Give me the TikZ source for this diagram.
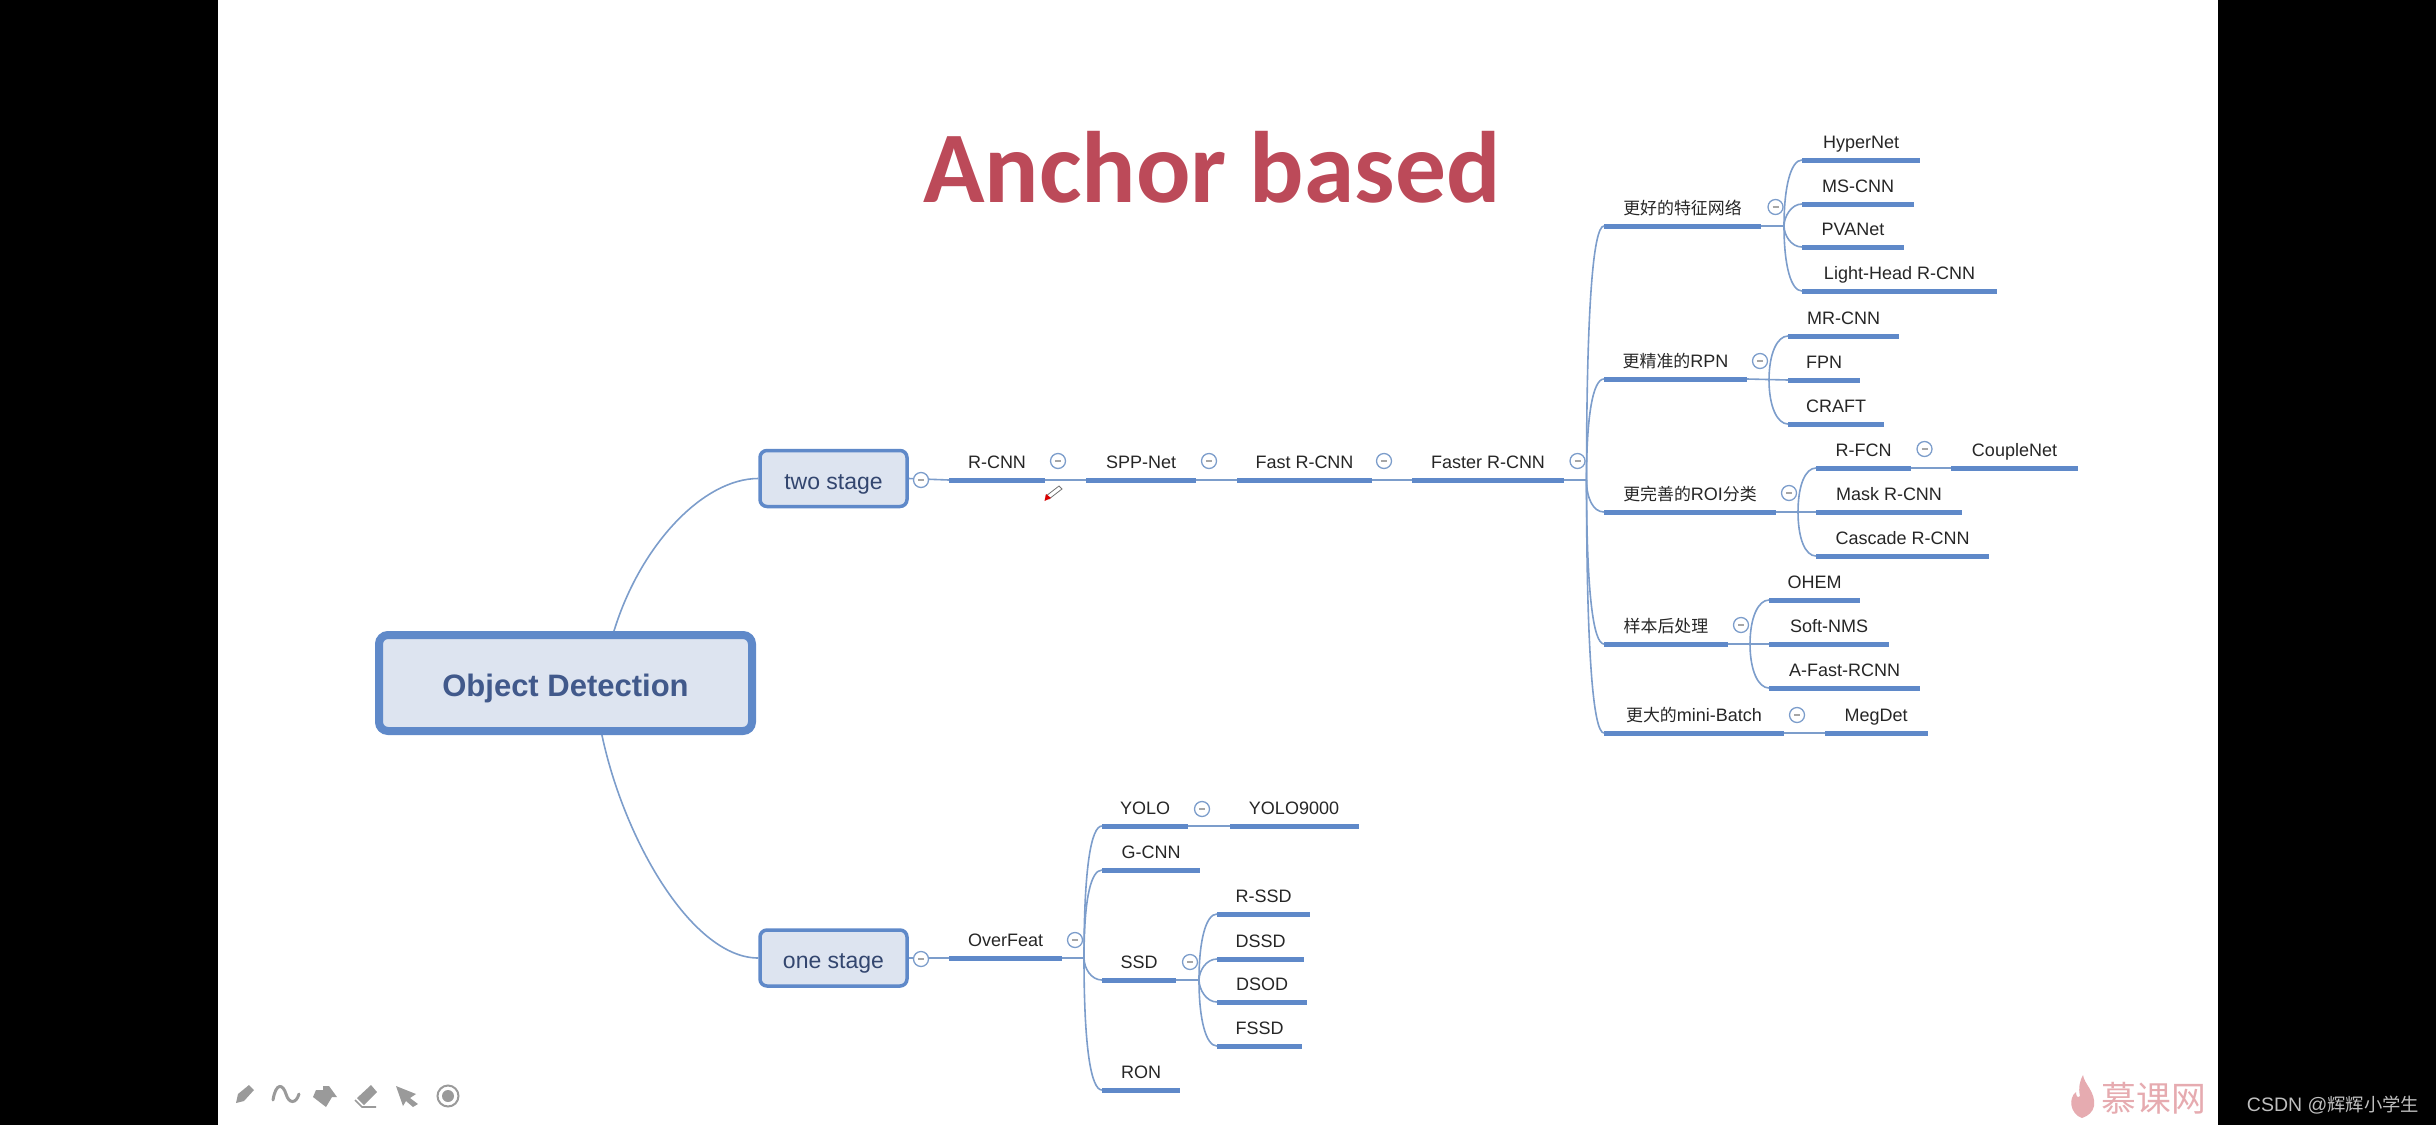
\documentclass[tikz,border=0pt]{standalone}
\usepackage{fontspec}
\setmainfont{Liberation Sans}
\newfontfamily\cjk[Scale=0.94]{Noto Sans CJK SC}
\newfontfamily\titlefont{Carlito}
\definecolor{barblue}{HTML}{5F89C9}
\definecolor{linkblue}{HTML}{7C9DCB}
\definecolor{boxfill}{HTML}{DDE4F0}
\definecolor{rootText}{HTML}{41598B}
\definecolor{stageText}{HTML}{33466F}
\definecolor{titleRed}{HTML}{BC4A59}
\definecolor{iconGray}{HTML}{9A9A9A}
\definecolor{markPink}{HTML}{E6ABB0}
\begin{document}
\begin{tikzpicture}[x=1pt,y=-1pt,
	topic_text/.style={font=\fontsize{18}{20}\selectfont,color=black!85,inner sep=0pt,text height=13pt,text depth=4pt},
	bar_node/.style={rectangle,fill=barblue,minimum height=5pt,inner sep=0pt,outer sep=0pt,label={[topic_text,label distance=5pt]above:#1}},
	root_node/.style={rectangle,rounded corners=9pt,draw=barblue,fill=boxfill,line width=8pt,minimum width=373pt,minimum height=96pt,font=\bfseries\fontsize{31}{34}\selectfont,text=rootText,text height=26pt,text depth=0pt},
	stage_node/.style={rectangle,rounded corners=7pt,draw=barblue,fill=boxfill,line width=3.5pt,minimum width=147pt,minimum height=56pt,font=\fontsize{23}{26}\selectfont,text=stageText,text height=21pt,text depth=0pt},
	fold_node/.style={circle,draw=linkblue,fill=white,line width=1.3pt,minimum size=15pt,inner sep=0pt,path picture={\draw[black!35,line width=1.4pt] ([xshift=-3pt]path picture bounding box.center) -- ([xshift=3pt]path picture bounding box.center);}},
	link/.style={draw=linkblue,line width=1.6pt},
	up_link/.style={out=90,in=180,out distance=#1,in distance=11pt},
	down_link/.style={out=-90,in=180,out distance=#1,in distance=11pt}]

	\useasboundingbox (0,0) rectangle (2436,1125);
	\fill[black] (0,0) rectangle (218,1125);
	\fill[black] (2218,0) rectangle (2436,1125);

	\node[text=titleRed,font=\titlefont\bfseries\fontsize{101.5}{120}\selectfont] (title) at (1212,167) {Anchor based};

	\node[root_node] (root) at (565.5,683) {Object Detection};
	\node[stage_node] (two) at (833.5,478.5) {two stage};
	\node[stage_node] (one) at (833.5,958) {one stage};

	\node[bar_node=R-CNN,minimum width=96pt] (rcnn) at (997,480) {};
	\node[bar_node=SPP-Net,minimum width=110pt] (spp) at (1141,480) {};
	\node[bar_node=Fast R-CNN,minimum width=135pt] (fast) at (1304.5,480) {};
	\node[bar_node=Faster R-CNN,minimum width=152pt] (faster) at (1488,480) {};

	\node[bar_node={\cjk 更好的特征网络},minimum width=157pt] (better) at (1682.5,226) {};
	\node[bar_node=HyperNet,minimum width=118pt] (hyper) at (1861,160) {};
	\node[bar_node=MS-CNN,minimum width=112pt] (mscnn) at (1858,204) {};
	\node[bar_node=PVANet,minimum width=102pt] (pva) at (1853,247) {};
	\node[bar_node=Light-Head R-CNN,minimum width=195pt] (light) at (1899.5,291) {};

	\node[bar_node={{\cjk 更精准的}RPN},minimum width=143pt] (rpn) at (1675.5,379) {};
	\node[bar_node=MR-CNN,minimum width=111pt] (mrcnn) at (1843.5,336) {};
	\node[bar_node=FPN,minimum width=72pt] (fpn) at (1824,380) {};
	\node[bar_node=CRAFT,minimum width=96pt] (craft) at (1836,424) {};

	\node[bar_node={{\cjk 更完善的}ROI{\cjk 分类}},minimum width=172pt] (roi) at (1690,512) {};
	\node[bar_node=R-FCN,minimum width=95pt] (rfcn) at (1863.5,468) {};
	\node[bar_node=CoupleNet,minimum width=127pt] (couple) at (2014.5,468) {};
	\node[bar_node=Mask R-CNN,minimum width=146pt] (mask) at (1889,512) {};
	\node[bar_node=Cascade R-CNN,minimum width=173pt] (cascade) at (1902.5,556) {};

	\node[bar_node={\cjk 样本后处理},minimum width=124pt] (post) at (1666,644) {};
	\node[bar_node=OHEM,minimum width=91pt] (ohem) at (1814.5,600) {};
	\node[bar_node=Soft-NMS,minimum width=120pt] (soft) at (1829,644) {};
	\node[bar_node=A-Fast-RCNN,minimum width=151pt] (afast) at (1844.5,688) {};

	\node[bar_node={{\cjk 更大的}mini-Batch},minimum width=180pt] (batch) at (1694,733) {};
	\node[bar_node=MegDet,minimum width=103pt] (meg) at (1876,733) {};

	\node[bar_node=OverFeat,minimum width=113pt] (over) at (1005.5,958) {};
	\node[bar_node=YOLO,minimum width=86pt] (yolo) at (1145,826) {};
	\node[bar_node=YOLO9000,minimum width=129pt] (yolo9) at (1294,826) {};
	\node[bar_node=G-CNN,minimum width=98pt] (gcnn) at (1151,870) {};
	\node[bar_node=SSD,minimum width=74pt] (ssd) at (1139,980) {};
	\node[bar_node=R-SSD,minimum width=93pt] (rssd) at (1263.5,914) {};
	\node[bar_node=DSSD,minimum width=87pt] (dssd) at (1260.5,959) {};
	\node[bar_node=DSOD,minimum width=90pt] (dsod) at (1262,1002) {};
	\node[bar_node=FSSD,minimum width=85pt] (fssd) at (1259.5,1046) {};
	\node[bar_node=RON,minimum width=78pt] (ron) at (1141,1090) {};

	\coordinate (hub_main) at (1586.5,480);
	\coordinate (hub_better) at (1784,226);
	\coordinate (hub_rpn) at (1769,380);
	\coordinate (hub_roi) at (1798,512);
	\coordinate (hub_post) at (1750,644);
	\coordinate (hub_over) at (1084,958);
	\coordinate (hub_ssd) at (1199,980);

	\draw[link] (root.47) to[out=73,in=180,out distance=90pt,in distance=55pt] (two.west);
	\draw[link] (root.-55) to[out=-78,in=180,out distance=110pt,in distance=65pt] (one.west);
	\draw[link] (two.east) -- (rcnn.west);
	\draw[link] (rcnn.east) -- (spp.west);
	\draw[link] (spp.east) -- (fast.west);
	\draw[link] (fast.east) -- (faster.west);
	\draw[link] (faster.east) -- (hub_main);
	\draw[link] (hub_main) to[up_link=170pt] (better.west);
	\draw[link] (hub_main) to[up_link=65pt] (rpn.west);
	\draw[link] (hub_main) to[down_link=18pt] (roi.west);
	\draw[link] (hub_main) to[down_link=110pt] (post.west);
	\draw[link] (hub_main) to[down_link=170pt] (batch.west);

	\draw[link] (better.east) -- (hub_better);
	\draw[link] (hub_better) to[up_link=40pt] (hyper.west);
	\draw[link] (hub_better) to[up_link=9pt] (mscnn.west);
	\draw[link] (hub_better) to[down_link=9pt] (pva.west);
	\draw[link] (hub_better) to[down_link=40pt] (light.west);

	\draw[link] (rpn.east) -- (fpn.west);
	\draw[link] (hub_rpn) to[up_link=26pt] (mrcnn.west);
	\draw[link] (hub_rpn) to[down_link=26pt] (craft.west);

	\draw[link] (roi.east) -- (mask.west);
	\draw[link] (hub_roi) to[up_link=26pt] (rfcn.west);
	\draw[link] (hub_roi) to[down_link=26pt] (cascade.west);
	\draw[link] (rfcn.east) -- (couple.west);

	\draw[link] (post.east) -- (soft.west);
	\draw[link] (hub_post) to[up_link=26pt] (ohem.west);
	\draw[link] (hub_post) to[down_link=26pt] (afast.west);
	\draw[link] (batch.east) -- (meg.west);

	\draw[link] (one.east) -- (over.west);
	\draw[link] (over.east) -- (hub_over);
	\draw[link] (hub_over) to[up_link=90pt] (yolo.west);
	\draw[link] (hub_over) to[up_link=60pt] (gcnn.west);
	\draw[link] (hub_over) to[down_link=10pt] (ssd.west);
	\draw[link] (hub_over) to[down_link=90pt] (ron.west);
	\draw[link] (yolo.east) -- (yolo9.west);

	\draw[link] (ssd.east) -- (hub_ssd);
	\draw[link] (hub_ssd) to[up_link=40pt] (rssd.west);
	\draw[link] (hub_ssd) to[up_link=9pt] (dssd.west);
	\draw[link] (hub_ssd) to[down_link=9pt] (dsod.west);
	\draw[link] (hub_ssd) to[down_link=40pt] (fssd.west);

	\node[fold_node] (f1) at (921,480) {};
	\node[fold_node] (f2) at (1058,461) {};
	\node[fold_node] (f3) at (1209,461) {};
	\node[fold_node] (f4) at (1384,461) {};
	\node[fold_node] (f5) at (1577.5,461) {};
	\node[fold_node] (f6) at (1775.5,207) {};
	\node[fold_node] (f7) at (1760,361) {};
	\node[fold_node] (f8) at (1789,493) {};
	\node[fold_node] (f9) at (1924.5,449) {};
	\node[fold_node] (f10) at (1741,625) {};
	\node[fold_node] (f11) at (1797,715) {};
	\node[fold_node] (f12) at (921,959) {};
	\node[fold_node] (f13) at (1075,940) {};
	\node[fold_node] (f14) at (1202,809) {};
	\node[fold_node] (f15) at (1190,962) {};

	\fill[white,draw=black!55,line width=.8pt] (1059,486) -- (1062,489) -- (1049,499) -- (1046,496) -- cycle;
	\fill[red!85!black] (1044.5,501) -- (1046,494) -- (1051,498) -- cycle;

	\fill[iconGray] (236,1103) -- (238,1094) -- (249,1085) -- (254,1090) -- (244,1101) -- cycle;
	\draw[iconGray,line width=3pt,line cap=round] (273,1100) .. controls (276,1082) and (283,1084) .. (286,1094) .. controls (289,1104) and (296,1104) .. (299,1094);
	\fill[iconGray] (313,1097) -- (316,1090) -- (323,1090) -- (323,1086) -- (329,1086) -- (337,1097) -- (332,1097) -- (326,1107) -- cycle;
	\fill[iconGray] (357,1098) -- (371,1085) -- (377,1092) -- (364,1105) -- cycle;
	\draw[iconGray,line width=1.6pt] (355,1100) -- (362,1107) -- (376,1107);
	\fill[iconGray] (396,1086) -- (416,1094) -- (410,1098) -- (418,1104) -- (413,1107) -- (406,1101) -- (403,1106) -- cycle;
	\draw[iconGray,line width=2pt] (448,1096) circle (10.5pt);
	\fill[iconGray] (448,1096) circle (6pt);

	\fill[markPink] (2082,1118) .. controls (2070,1114) and (2068,1098) .. (2076,1092) .. controls (2076,1097) and (2078,1098) .. (2080,1096) .. controls (2078,1088) and (2080,1080) .. (2083,1075) .. controls (2084,1084) and (2096,1092) .. (2094,1106) .. controls (2093,1112) and (2088,1116) .. (2082,1118) -- cycle;
	\node[text=markPink,font=\cjk\fontsize{37}{39}\selectfont,inner sep=0pt] (mark) at (2154,1098) {慕课网};
	\node[text=black!25,font=\fontsize{19.5}{22}\selectfont,inner sep=0pt] (csdn) at (2333,1105) {CSDN @{\cjk 辉辉小学生}};
\end{tikzpicture}
\end{document}
